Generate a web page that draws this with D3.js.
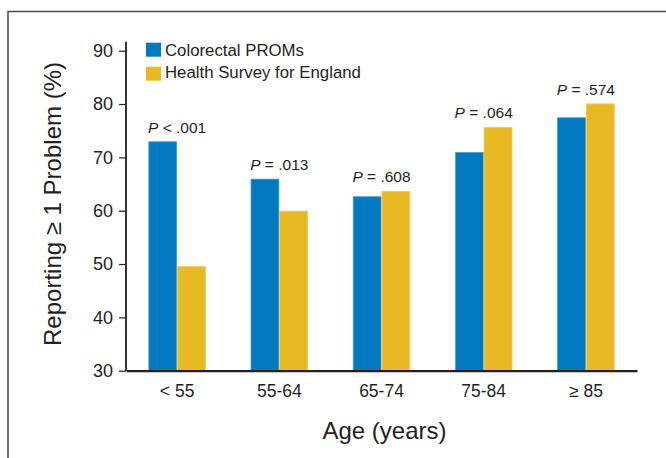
<!DOCTYPE html>
<html><head><meta charset="utf-8">
<script src="https://cdn.jsdelivr.net/npm/d3@7"></script>
<style>
html,body{margin:0;padding:0;background:#fff;}
svg text{font-family:"Liberation Sans",Arial,sans-serif;fill:#231f20;}
</style>
</head><body>
<svg id="chart" width="666" height="458"></svg>
<script>
const categories = ["< 55", "55-64", "65-74", "75-84", "\u2265 85"];
const seriesNames = ["Colorectal PROMs", "Health Survey for England"];
const colorectal = [73, 66, 62.7, 71, 77.5];
const hse = [49.6, 60, 63.7, 75.7, 80.1];
const pValues = ["< .001", "= .013", "= .608", "= .064", "= .574"];
const yTicks = [30, 40, 50, 60, 70, 80, 90];
const colors = ["#0079c1", "#e8b923"];
const edgeColors = ["#4d9fd3", "#f0cc5a"];

const svg = d3.select("#chart");
// frame
svg.append("path").attr("d","M8,458 L8,11.5 L666,11.5")
  .attr("fill","none").attr("stroke","#4a4a4a").attr("stroke-width",1.5);

const mLeft = 126, mRight = 637, mTop = 50.7, mBottom = 370.7;
const y = d3.scaleLinear().domain([30, 90]).range([mBottom, mTop]);
const x0 = d3.scaleBand().domain(categories).range([mLeft, mRight]).padding(0);
const x1 = d3.scaleBand().domain(seriesNames).range([0, x0.bandwidth()]).paddingInner(0).paddingOuter(0.78);

const data = categories.map((c,i)=>({cat:c, vals:[colorectal[i], hse[i]], p:pValues[i]}));

const g = svg.append("g");
const groups = g.selectAll("g.grp").data(data).join("g").attr("transform", d=>`translate(${x0(d.cat)},0)`);
groups.selectAll("rect").data(d=>d.vals.map((v,k)=>({v, k}))).join("rect")
  .attr("x", d=>x1(seriesNames[d.k]) + 0.4)
  .attr("y", d=>y(d.v) + 0.4)
  .attr("width", x1.bandwidth() - 0.8)
  .attr("height", d=>y(30)-y(d.v))
  .attr("fill", d=>colors[d.k])
  .attr("stroke", d=>edgeColors[d.k])
  .attr("stroke-width", 0.8);

// P labels
groups.append("text")
  .attr("x", x0.bandwidth()/2)
  .attr("y", d=>y(d3.max(d.vals)) - 8.5)
  .attr("text-anchor","middle")
  .attr("font-size", 15.5)
  .call(t=>{
    t.append("tspan").attr("font-style","italic").text("P");
    t.append("tspan").text(d=>" " + d.p);
  });

// y axis
const yAxis = d3.axisLeft(y).tickValues(yTicks).tickSize(7).tickPadding(6);
const ya = svg.append("g").attr("transform",`translate(${mLeft},0)`).call(yAxis);
ya.select(".domain").attr("stroke","#231f20").attr("stroke-width",1.8).attr("d",`M0,${mTop-9}V${mBottom}`);
ya.selectAll(".tick line").attr("stroke","#231f20").attr("stroke-width",1.2);
ya.selectAll(".tick text").attr("font-size",18).attr("font-family",null).style("fill","#231f20");

// x axis
const xAxis = d3.axisBottom(x0).tickSize(0).tickPadding(14);
const xa = svg.append("g").attr("transform",`translate(0,${mBottom})`).call(xAxis);
xa.select(".domain").attr("stroke","#231f20").attr("stroke-width",2.2);
xa.selectAll(".tick text").attr("font-size",17.5).attr("font-family",null).style("fill","#231f20");

// axis titles
svg.append("text").attr("x", (mLeft+mRight)/2 + 3).attr("y", 439).attr("text-anchor","middle")
  .attr("font-size", 24).text("Age (years)");
svg.append("text").attr("transform","translate(61,204) rotate(-90)").attr("text-anchor","middle")
  .attr("font-size", 24).text("Reporting \u2265 1 Problem (%)");

// legend
const leg = svg.append("g");
seriesNames.forEach((s,i)=>{
  leg.append("rect").attr("x",146).attr("y",42.7 + i*24).attr("width",15).attr("height",14).attr("fill",colors[i]);
  leg.append("text").attr("x",165).attr("y",55.5 + i*22.5).attr("font-size",16.8).text(s);
});
</script>
</body></html>
